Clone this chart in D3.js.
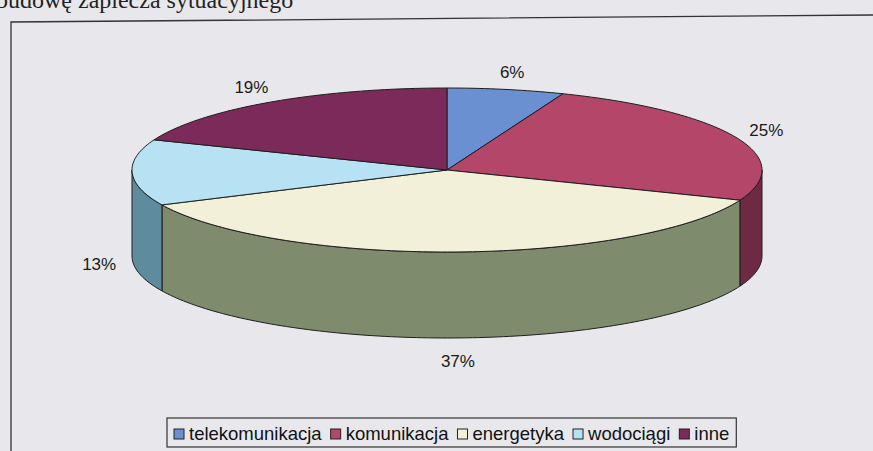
<!DOCTYPE html>
<html lang="pl">
<head>
<meta charset="UTF-8">
<title>Struktura – wykres kołowy 3D</title>
<script src="https://cdn.jsdelivr.net/npm/d3@7"></script>
<style>
  html, body { margin: 0; padding: 0; background: #e8e8ec; }
  svg { display: block; }
</style>
</head>
<body>
<div id="container"></div>
<script>
// data
const categories = ["telekomunikacja", "komunikacja", "energetyka", "wodociągi", "inne"];
const shares = [6, 25, 37, 13, 19];
const topColors = ["#6a90d2", "#b4466a", "#f3f0da", "#b6e2f4", "#7c2a5a"];
const sideColors = ["#4f6ea8", "#6e2a42", "#7e8b6c", "#5e8c9e", "#5a1f42"];

const w = 873, h = 451;
const cx = 447, cy = 170, rx = 315, ry = 82, depth = 86;

const svg = d3.select("#container").append("svg").attr("width", w).attr("height", h);

// cut-off line of document text above the chart frame (cropped in the scan too)
svg.append("text").attr("x", -4).attr("y", 8)
  .attr("font-family", "Liberation Serif, Times New Roman, serif").attr("font-size", 24)
  .attr("fill", "#222").text("budowę zaplecza sytuacyjnego");

// chart frame (scan is slightly tilted)
svg.append("path").attr("d", "M11,451 L11,22 L873,15")
  .attr("fill", "none").attr("stroke", "#333").attr("stroke-width", 1.3);

// angles clockwise from 12 o'clock
const pie = d3.pie().sort(null).value(d => d)(shares);
const pt = (a, dy = 0) => [cx + rx * Math.sin(a), cy - ry * Math.cos(a) + dy];
const arcPts = (a0, a1, dy = 0) => {
  const n = Math.max(2, Math.ceil((a1 - a0) / 0.02));
  return d3.range(n + 1).map(i => pt(a0 + (a1 - a0) * i / n, dy));
};
const line = d3.line();

// outer walls for the front half
const walls = svg.append("g");
pie.forEach((p, i) => {
  const s = Math.max(p.startAngle, Math.PI / 2), e = Math.min(p.endAngle, 3 * Math.PI / 2);
  if (s >= e) return;
  const pts = arcPts(s, e).concat(arcPts(s, e, depth).reverse());
  walls.append("path").attr("d", line(pts) + "Z")
    .attr("fill", sideColors[i]).attr("stroke", "#1e1e1e").attr("stroke-width", 1);
});

// top faces
const tops = svg.append("g");
pie.forEach((p, i) => {
  const pts = [[cx, cy]].concat(arcPts(p.startAngle, p.endAngle));
  tops.append("path").attr("d", line(pts) + "Z")
    .attr("fill", topColors[i]).attr("stroke", "#1e1e1e").attr("stroke-width", 1)
    .attr("stroke-linejoin", "round");
});

// percent labels
const labels = svg.append("g").attr("font-family", "Liberation Sans, Arial, sans-serif")
  .attr("font-size", 17).attr("fill", "#1a1a1a").attr("text-anchor", "middle");
pie.forEach((p, i) => {
  const a = (p.startAngle + p.endAngle) / 2;
  const x = cx + (rx + 33) * Math.sin(a);
  let y = cy - (ry + 18) * Math.cos(a);
  if (Math.cos(a) < 0) y += depth + 5;
  labels.append("text").attr("x", x).attr("y", y).attr("dy", "0.35em")
    .text(shares[i] + "%");
});

// legend
const leg = svg.append("g").attr("font-family", "Liberation Sans, Arial, sans-serif").attr("font-size", 18.5);
const box = leg.append("rect").attr("fill", "none").attr("stroke", "#333").attr("stroke-width", 1.2);
let lx = 0;
const items = leg.append("g");
categories.forEach((c, i) => {
  const g = items.append("g").attr("transform", `translate(${lx},0)`);
  g.append("rect").attr("x", 0).attr("y", -11).attr("width", 10).attr("height", 10)
    .attr("fill", topColors[i]).attr("stroke", "#222").attr("stroke-width", 1);
  const t = g.append("text").attr("x", 15).attr("y", 0).attr("fill", "#111").text(c);
  lx += 15 + t.node().getComputedTextLength() + 9;
});
lx -= 9;
const legX = 174, legY = 440;
items.attr("transform", `translate(${legX},${legY})`);
box.attr("x", legX - 7).attr("y", legY - 22).attr("width", lx + 14).attr("height", 29);
</script>
</body>
</html>
